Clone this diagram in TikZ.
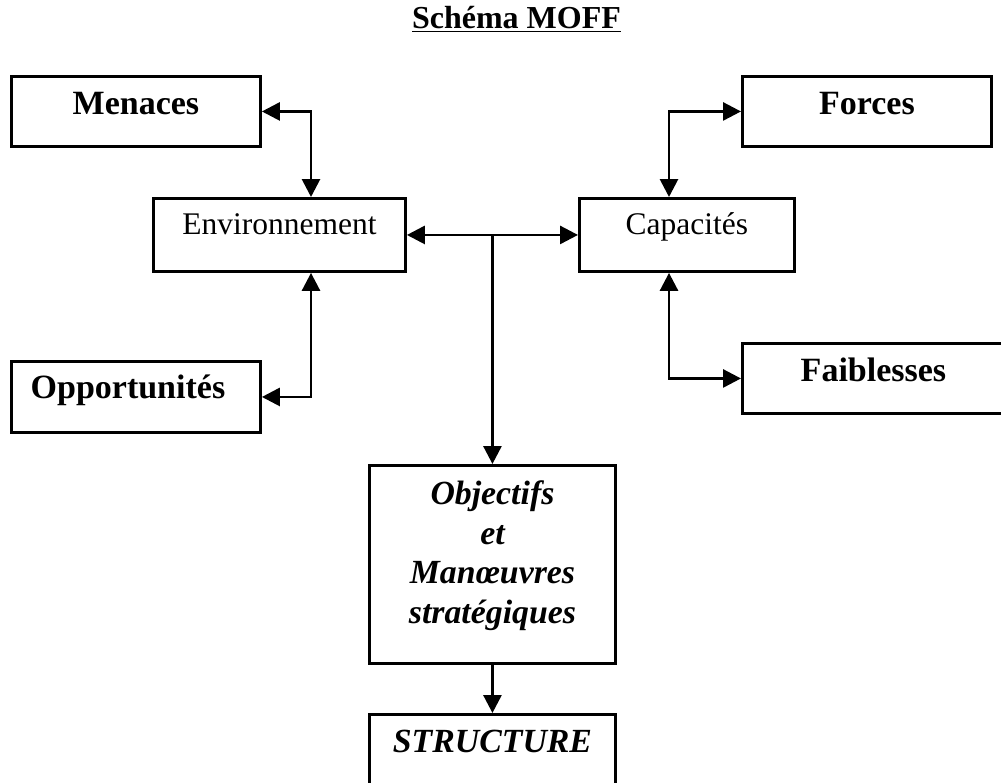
\documentclass[tikz,border=0pt]{standalone}
\usepackage{fontspec}
\setmainfont{Liberation Serif}
\usetikzlibrary{arrows.meta}
\tikzset{
  boxst/.style={draw, line width=1.45pt, rectangle, inner sep=0pt, anchor=north west, align=center},
  regtxt/.style={font=\fontsize{15.75}{18}\selectfont},
  boldtxt/.style={font=\fontsize{17}{20}\selectfont\bfseries},
  conn/.style={line width=1.4pt, line cap=rect},
  >={Triangle[length=9pt,width=9pt]}
}
\begin{document}
\begin{tikzpicture}[x=0.5pt,y=-0.5pt]
\useasboundingbox (0,0) rectangle (1001,782);
\clip (0,0) rectangle (1001,782);
% title
\node[anchor=base, font=\fontsize{16}{19}\selectfont\bfseries] (title) at (516.5,28) {\underline{Schéma MOFF}};
% boxes
\node[boxst, boldtxt, minimum width=249*0.5pt, minimum height=70*0.5pt, text height=3pt, text depth=0pt] (men) at (10,75) {Menaces};
\node[boxst, boldtxt, minimum width=249*0.5pt, minimum height=70*0.5pt, text height=3pt, text depth=0pt] (frc) at (741,75) {Forces};
\node[boxst, regtxt, minimum width=252*0.5pt, minimum height=73*0.5pt, text height=0pt, text depth=0pt] (env) at (152,197) {Environnement};
\node[boxst, regtxt, minimum width=215*0.5pt, minimum height=73*0.5pt, text height=0pt, text depth=0pt] (cap) at (578,197) {Capacités};
\node[boxst, boldtxt, minimum width=249*0.5pt, minimum height=71*0.5pt, text height=1.5pt, text depth=0pt] (opp) at (10,360) {Opportunités\kern8pt};
\node[boxst, boldtxt, minimum width=290*0.5pt, minimum height=70*0.5pt, text height=3pt, text depth=0pt] (fai) at (741,342) {Faiblesses\kern14pt};
\node[boxst, font=\fontsize{16.9}{19.85}\selectfont\bfseries\itshape, minimum width=246*0.5pt, minimum height=198*0.5pt, text height=59pt, text depth=0pt] (obj) at (368,464) {Objectifs\\et\\Manœuvres\\stratégiques};
\node[boxst, font=\fontsize{16.9}{20}\selectfont\bfseries\itshape, minimum width=246*0.5pt, minimum height=74*0.5pt, text height=1pt, text depth=0pt] (str) at (368,713) {STRUCTURE};
% helper coordinates
\coordinate (xl) at (311,0);
\coordinate (xr) at (669,0);
\coordinate (j) at (env.east -| obj.north);
% connectors
\draw[conn, <->] (men.east) -| (env.north -| xl);
\draw[conn, <->] (frc.west) -| (cap.north -| xr);
\draw[conn, <->] (env.south -| xl) |- (opp.east);
\draw[conn, <->] (cap.south -| xr) |- (fai.west);
\draw[conn, <->] (env.east) -- (cap.west);
\draw[conn, ->] (j) -- (obj.north);
\draw[conn, ->] (obj.south) -- (str.north);
\end{tikzpicture}
\end{document}
